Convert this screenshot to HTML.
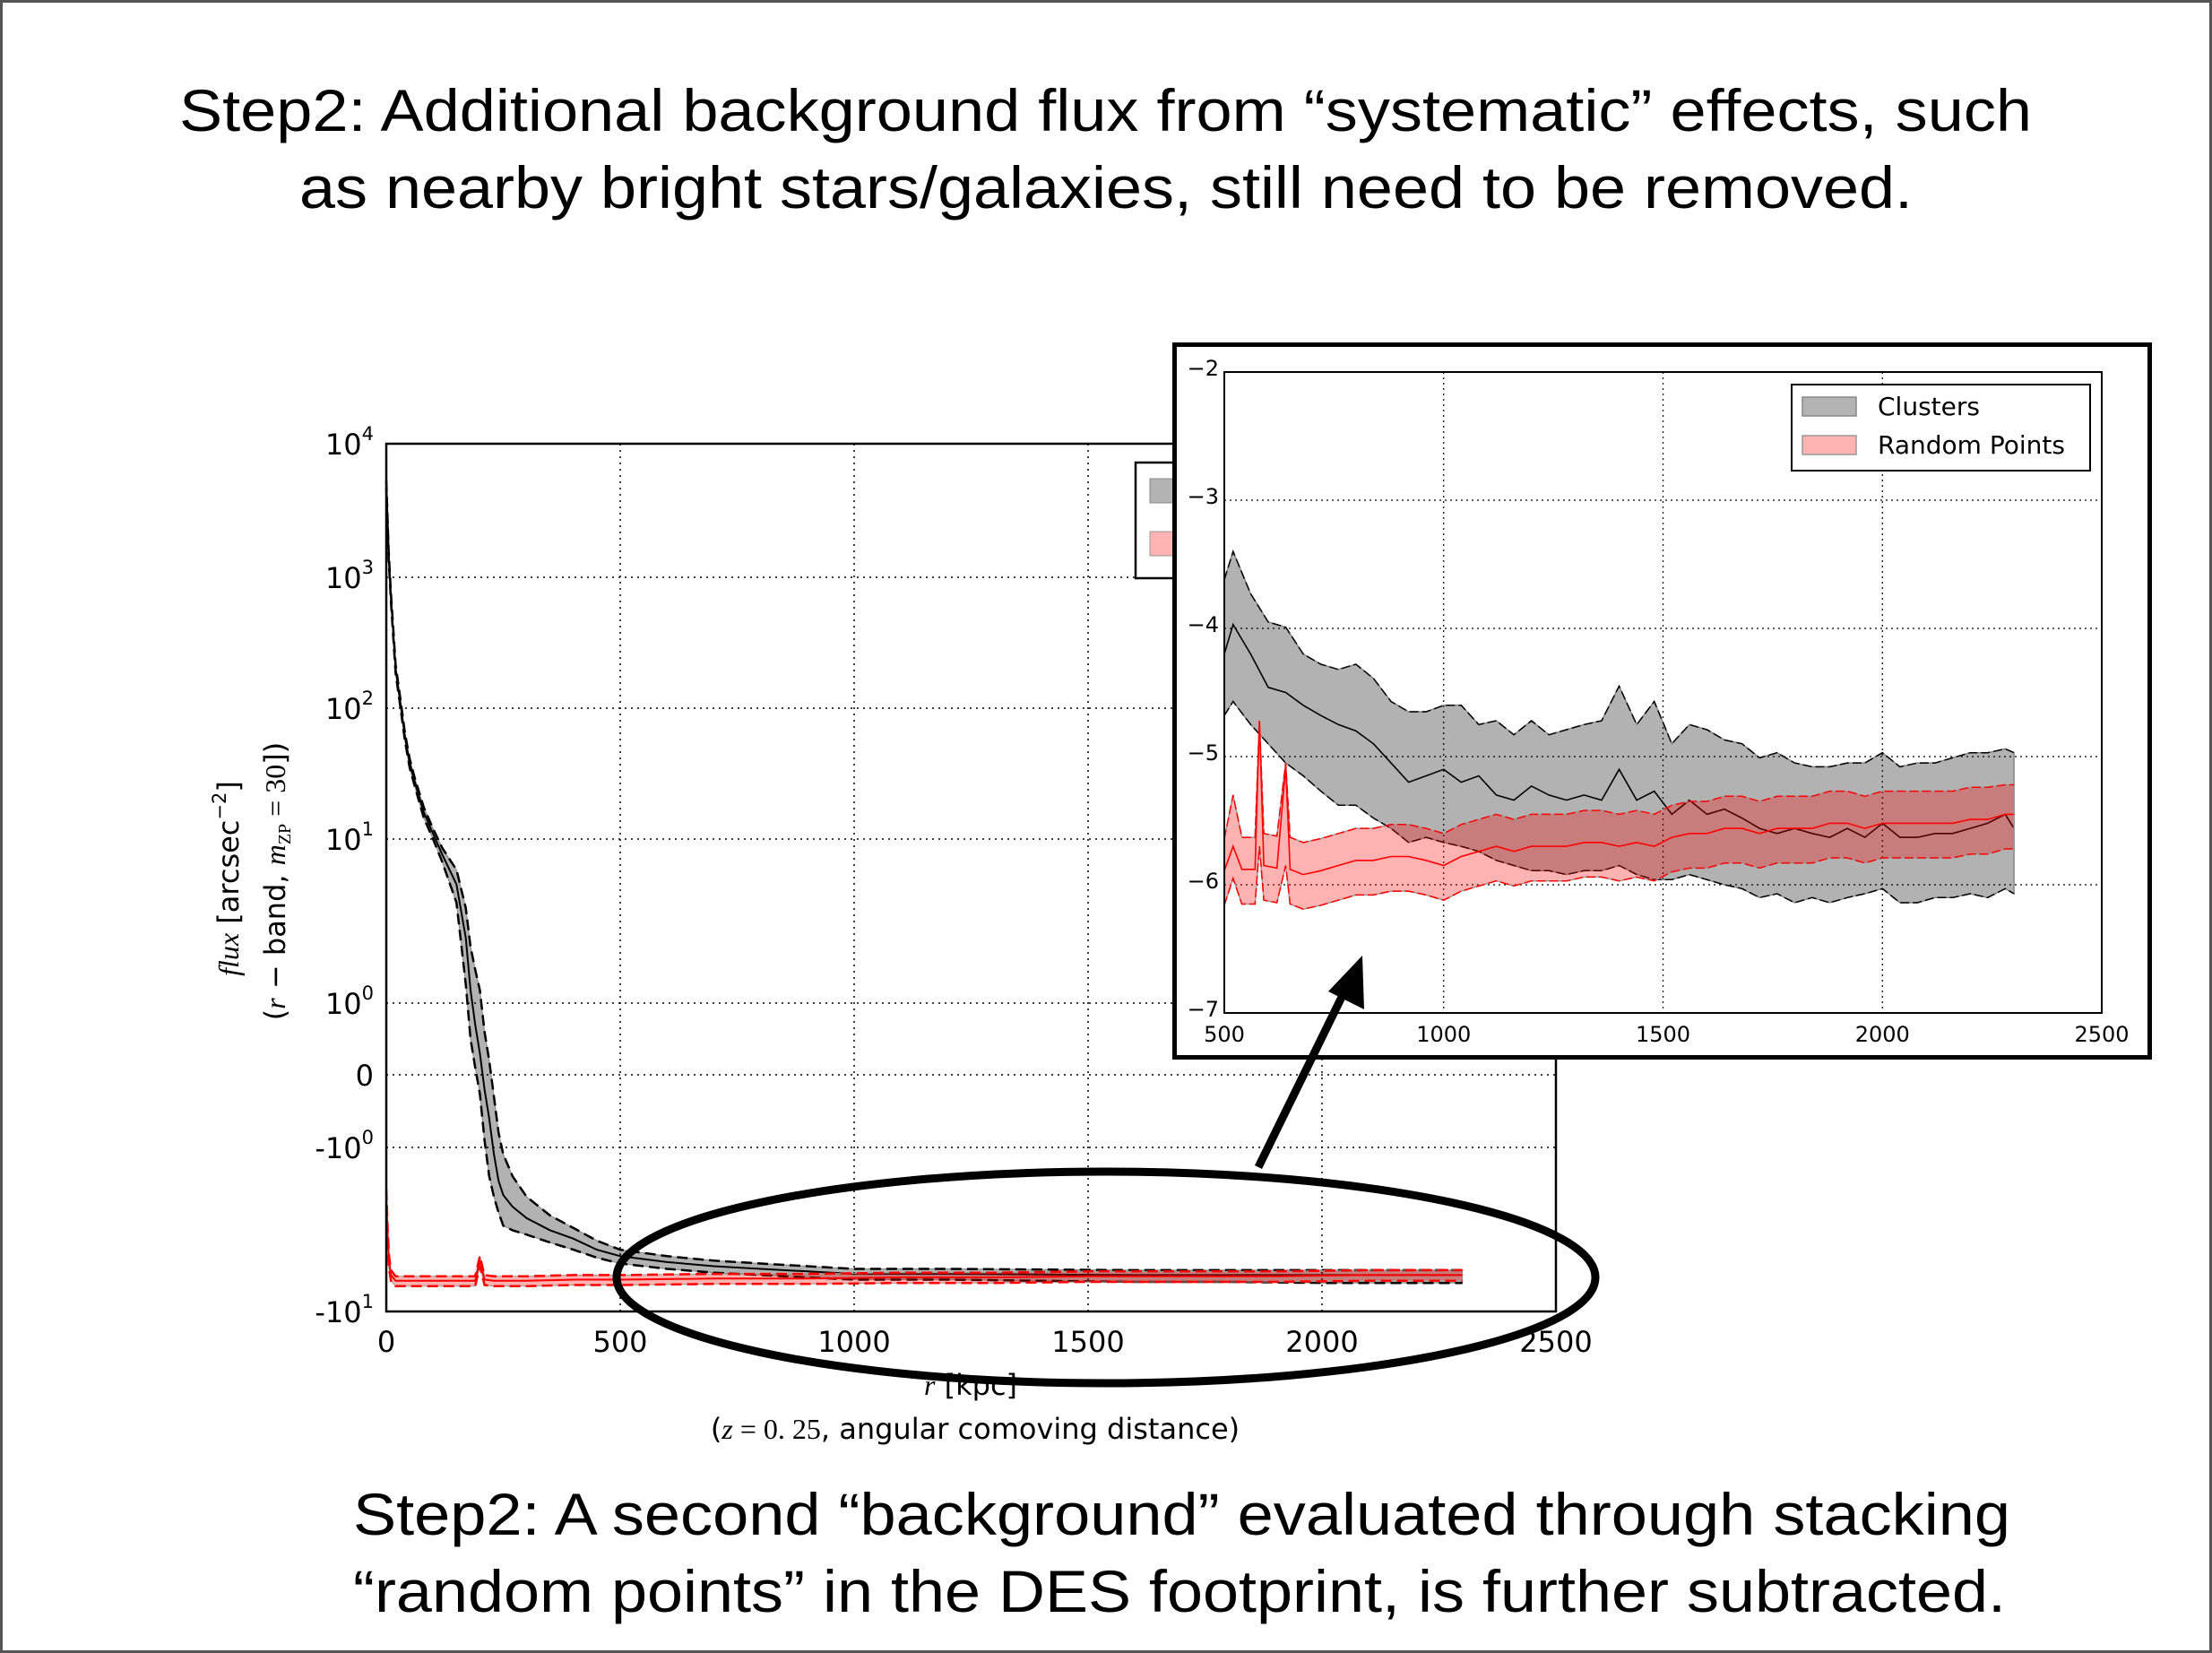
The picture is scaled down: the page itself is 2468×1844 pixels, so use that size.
<!DOCTYPE html>
<html><head><meta charset="utf-8"><style>
html,body{margin:0;padding:0;background:#fff;}
svg{display:block;}
text{font-family:"DejaVu Sans","Liberation Sans",sans-serif;}
.big{font-family:"Liberation Sans",Arial,sans-serif;font-size:66px;fill:#000;}
</style></head><body>
<svg id="root" width="2468" height="1844" viewBox="0 0 2468 1844" xmlns="http://www.w3.org/2000/svg">
<rect x="1.5" y="1.5" width="2465" height="1841" fill="#fff" stroke="#555" stroke-width="3"/>
<text class="big" x="200" y="146" textLength="2067" lengthAdjust="spacingAndGlyphs">Step2: Additional background flux from “systematic” effects, such</text>
<text class="big" x="334" y="232" textLength="1800" lengthAdjust="spacingAndGlyphs">as nearby bright stars/galaxies, still need to be removed.</text>
<text class="big" x="394" y="1712" textLength="1849" lengthAdjust="spacingAndGlyphs">Step2: A second “background” evaluated through stacking</text>
<text class="big" x="394" y="1798" textLength="1844" lengthAdjust="spacingAndGlyphs">“random points” in the DES footprint, is further subtracted.</text>
<g id="main"></g>
<g id="inset"></g>
<g id="annot"></g>
</svg>
<script>
// ---- main chart data (r in kpc, flux) ----
const mainClR = [0,5,10,20,30,40,50,60,80,100,120,150,170,180,190,200,210,220,230,240,250,270,300,350,400,450,500,600,700,800,900,1000,1200,1400,1600,1800,2000,2200,2300];
const mainClMean = [5000,1500,700,200,110,60,38,28,16,11,8,5.3,2.5,1.2,0.7,0.3,-0.2,-0.6,-1.1,-1.6,-1.95,-2.3,-2.7,-3.2,-3.6,-4.2,-4.6,-5.0,-5.3,-5.5,-5.7,-5.9,-5.9,-5.95,-6.0,-6.0,-6.0,-6.0,-6.0];
const mainClHi = [5300,1600,750,215,118,64,41,30,17.5,12,8.8,6.5,3.8,2.2,1.6,1.2,0.6,0.2,-0.3,-0.8,-1.1,-1.5,-2.0,-2.6,-3.1,-3.7,-4.2,-4.6,-4.9,-5.1,-5.3,-5.5,-5.5,-5.55,-5.6,-5.6,-5.6,-5.6,-5.6];
const mainClLo = [4700,1400,650,185,102,56,35,26,14.5,10,7.2,4.1,1.3,0.5,0.1,-0.26,-0.9,-1.5,-2.0,-2.5,-3.0,-3.2,-3.4,-3.8,-4.2,-4.7,-5.1,-5.5,-5.8,-6.0,-6.2,-6.4,-6.4,-6.5,-6.6,-6.6,-6.7,-6.7,-6.7];
const mainRdR = [0,3,6,10,20,50,100,150,190,200,210,230,300,400,500,700,900,1100,1300,1500,1700,1900,2100,2300];
const mainRdMean = [-2,-3.5,-5,-6,-6.5,-6.5,-6.5,-6.5,-6.5,-4.9,-6.4,-6.5,-6.5,-6.4,-6.4,-6.3,-6.3,-6.2,-6.2,-6.1,-6.1,-6.1,-6.0,-6.0];
const mainRdHi = [-1.8,-3.2,-4.6,-5.6,-6.1,-6.1,-6.1,-6.1,-6.1,-4.6,-6.0,-6.1,-6.1,-6.0,-6.0,-5.9,-5.9,-5.8,-5.8,-5.7,-5.7,-5.7,-5.6,-5.6];
const mainRdLo = [-2.3,-3.9,-5.5,-6.5,-7.0,-7.0,-7.0,-7.0,-7.0,-5.3,-6.9,-7.0,-7.0,-6.9,-6.9,-6.8,-6.8,-6.7,-6.7,-6.6,-6.6,-6.6,-6.5,-6.5];
const mainXTicks = [0,500,1000,1500,2000,2500];
const mainYTickT = [5,4,3,2,1,0,-1,-2];
const mainYTickBase = ["10","10","10","10","10","0","-10","-10"];
const mainYTickExp = ["4","3","2","1","0","","0","1"];
// ---- inset data ----
const inClR = [500,520,560,600,640,680,720,760,800,840,880,920,960,1000,1040,1080,1120,1160,1200,1240,1280,1320,1360,1400,1440,1480,1520,1560,1600,1640,1680,1720,1760,1800,1840,1880,1920,1960,2000,2040,2080,2120,2160,2200,2240,2280,2300];
const inClMean = [-4.2,-3.97,-4.2,-4.46,-4.5,-4.6,-4.68,-4.75,-4.8,-4.9,-5.05,-5.2,-5.15,-5.1,-5.2,-5.15,-5.3,-5.34,-5.23,-5.3,-5.34,-5.3,-5.34,-5.1,-5.34,-5.27,-5.45,-5.34,-5.45,-5.41,-5.48,-5.56,-5.6,-5.56,-5.6,-5.63,-5.56,-5.63,-5.52,-5.63,-5.63,-5.6,-5.6,-5.56,-5.52,-5.45,-5.56];
const inClHi = [-3.62,-3.4,-3.73,-3.95,-3.99,-4.2,-4.28,-4.32,-4.28,-4.39,-4.57,-4.65,-4.65,-4.6,-4.6,-4.75,-4.72,-4.83,-4.72,-4.83,-4.79,-4.75,-4.72,-4.45,-4.75,-4.57,-4.9,-4.75,-4.79,-4.87,-4.9,-5.01,-4.97,-5.05,-5.08,-5.08,-5.05,-5.05,-4.97,-5.08,-5.05,-5.05,-5.01,-4.97,-4.97,-4.94,-4.97];
const inClLo = [-4.68,-4.57,-4.75,-4.9,-5.05,-5.15,-5.27,-5.38,-5.38,-5.48,-5.56,-5.67,-5.63,-5.67,-5.7,-5.74,-5.81,-5.85,-5.89,-5.89,-5.92,-5.89,-5.89,-5.85,-5.92,-5.96,-5.96,-5.92,-5.96,-6.0,-6.03,-6.1,-6.07,-6.14,-6.1,-6.14,-6.1,-6.07,-6.03,-6.14,-6.14,-6.1,-6.1,-6.07,-6.1,-6.03,-6.07];
const inRdR = [500,520,540,570,580,590,620,640,650,680,720,760,800,840,880,920,960,1000,1040,1080,1120,1160,1200,1240,1280,1320,1360,1400,1440,1480,1520,1560,1600,1640,1680,1720,1760,1800,1840,1880,1920,1960,2000,2040,2080,2120,2160,2200,2240,2280,2300];
const inRdMean = [-5.89,-5.7,-5.88,-5.88,-4.72,-5.85,-5.87,-5.08,-5.88,-5.92,-5.89,-5.85,-5.81,-5.81,-5.78,-5.78,-5.81,-5.85,-5.78,-5.74,-5.7,-5.74,-5.7,-5.7,-5.7,-5.67,-5.67,-5.7,-5.67,-5.7,-5.63,-5.6,-5.6,-5.56,-5.56,-5.6,-5.56,-5.56,-5.56,-5.52,-5.52,-5.56,-5.52,-5.52,-5.52,-5.52,-5.52,-5.49,-5.49,-5.45,-5.45];
const inRdHi = [-5.64,-5.3,-5.63,-5.63,-4.72,-5.6,-5.62,-5.05,-5.63,-5.67,-5.64,-5.6,-5.56,-5.56,-5.53,-5.53,-5.56,-5.6,-5.53,-5.49,-5.45,-5.49,-5.45,-5.45,-5.45,-5.42,-5.42,-5.45,-5.42,-5.45,-5.38,-5.35,-5.35,-5.31,-5.31,-5.35,-5.31,-5.31,-5.31,-5.27,-5.27,-5.31,-5.27,-5.27,-5.27,-5.27,-5.27,-5.24,-5.24,-5.22,-5.22];
const inRdLo = [-6.16,-5.95,-6.15,-6.15,-5.7,-6.12,-6.14,-5.85,-6.15,-6.19,-6.16,-6.12,-6.08,-6.08,-6.05,-6.05,-6.08,-6.12,-6.05,-6.01,-5.97,-6.01,-5.97,-5.97,-5.97,-5.94,-5.94,-5.97,-5.94,-5.97,-5.9,-5.87,-5.87,-5.83,-5.83,-5.87,-5.83,-5.83,-5.83,-5.79,-5.79,-5.83,-5.79,-5.79,-5.79,-5.79,-5.79,-5.76,-5.76,-5.72,-5.72];
const inXTicks = [500,1000,1500,2000,2500];
const inYTicks = [-2,-3,-4,-5,-6,-7];
const legendLabels = ["Clusters","Random Points"];

const NS="http://www.w3.org/2000/svg";
function mk(parent,tag,attrs){const e=document.createElementNS(NS,tag);for(const k in attrs)e.setAttribute(k,attrs[k]);parent.appendChild(e);return e;}

// main axes geometry
const M={l:431,r:1736,t:495,b:1463};
const mainTickPx=[495,644,790,936,1119,1199,1280,1463];
function mx(v){return M.l+(v-0)/2500*(M.r-M.l);}
function symT(v){const a=Math.abs(v);return a<=1?v:Math.sign(v)*(1+Math.log10(a));}
function my(v){const t=symT(v);
  for(let i=0;i<mainYTickT.length-1;i++){const t0=mainYTickT[i],t1=mainYTickT[i+1];
    if(t<=t0&&t>=t1){return mainTickPx[i]+(t0-t)/(t0-t1)*(mainTickPx[i+1]-mainTickPx[i]);}}
  return t>5?M.t:M.b;}
const I={l:1366,r:2345,t:415,b:1130};
function ix(v){return I.l+(v-500)/2000*(I.r-I.l);}
function iy(v){return I.t+(-2-v)/5*(I.b-I.t);}
function pathOf(xs,ys,fx,fy){return xs.map((x,i)=>(i?'L':'M')+fx(x).toFixed(1)+' '+fy(ys[i]).toFixed(1)).join(' ');}
function bandOf(xs,lo,hi,fx,fy){let d=pathOf(xs,hi,fx,fy);for(let i=xs.length-1;i>=0;i--)d+=' L'+fx(xs[i]).toFixed(1)+' '+fy(lo[i]).toFixed(1);return d+' Z';}

// ---------- MAIN ----------
const g=document.getElementById('main');
mk(g,'rect',{x:M.l,y:M.t,width:M.r-M.l,height:M.b-M.t,fill:'#fff'});
mainXTicks.forEach((v,i)=>{
  const gl=mk(g,'line',{x1:mx(v),x2:mx(v),y1:M.t,y2:M.b,stroke:'#000','stroke-width':1.5,'stroke-dasharray':'2 5'});
  
  
  const t=mk(g,'text',{x:mx(v),y:M.b+45,'font-size':32,'text-anchor':'middle'});t.textContent=v;
  
  
});
mainYTickT.forEach((tv,i)=>{
  const y=mainTickPx[i];
  const gl=mk(g,'line',{x1:M.l,x2:M.r,y1:y,y2:y,stroke:'#000','stroke-width':1.5,'stroke-dasharray':'2 5'});
  
  
  const t=mk(g,'text',{x:417,y:y+12,'font-size':32,'text-anchor':'end'});
  
  
  const b=mk(t,'tspan',{});b.textContent=mainYTickBase[i];
  if(mainYTickExp[i]){const s=mk(t,'tspan',{'font-size':21,dy:-16});s.textContent=mainYTickExp[i];}
});
// clusters band
let e=mk(g,'path',{d:bandOf(mainClR,mainClLo,mainClHi,mx,my),fill:'#000','fill-opacity':0.3,stroke:'#888','stroke-width':1});


e=mk(g,'path',{d:pathOf(mainClR,mainClHi,mx,my),fill:'none',stroke:'#000','stroke-width':2.5,'stroke-dasharray':'12 6'});


e=mk(g,'path',{d:pathOf(mainClR,mainClLo,mx,my),fill:'none',stroke:'#000','stroke-width':2.5,'stroke-dasharray':'12 6'});


e=mk(g,'path',{d:pathOf(mainClR,mainClMean,mx,my),fill:'none',stroke:'#000','stroke-width':2});


e=mk(g,'path',{d:bandOf(mainRdR,mainRdLo,mainRdHi,mx,my),fill:'#f00','fill-opacity':0.3,stroke:'#999','stroke-width':1});


e=mk(g,'path',{d:pathOf(mainRdR,mainRdHi,mx,my),fill:'none',stroke:'#f00','stroke-width':2.5,'stroke-dasharray':'12 6'});


e=mk(g,'path',{d:pathOf(mainRdR,mainRdLo,mx,my),fill:'none',stroke:'#f00','stroke-width':2.5,'stroke-dasharray':'12 6'});


e=mk(g,'path',{d:pathOf(mainRdR,mainRdMean,mx,my),fill:'none',stroke:'#f00','stroke-width':2});


e=mk(g,'rect',{x:M.l,y:M.t,width:M.r-M.l,height:M.b-M.t,fill:'none',stroke:'#000','stroke-width':2.5});


// main legend (partly hidden)
e=mk(g,'rect',{x:1267,y:516,width:200,height:129,fill:'#fff',stroke:'#000','stroke-width':2.5});


mk(g,'rect',{x:1283,y:534,width:60,height:27,fill:'#b3b3b3',stroke:'#888'});
mk(g,'rect',{x:1283,y:593,width:60,height:27,fill:'#ffb3b3',stroke:'#999'});
// axis labels
e=mk(g,'text',{x:1083,y:1556,'font-size':32,'text-anchor':'middle'});


e.innerHTML='<tspan font-family="Liberation Serif,serif" font-style="italic">r</tspan> [kpc]';
e=mk(g,'text',{x:1088,y:1605,'font-size':32,'text-anchor':'middle'});


e.innerHTML='(<tspan font-family="Liberation Serif,serif" font-style="italic">z</tspan><tspan font-family="Liberation Serif,serif"> = 0. 25</tspan>, angular comoving distance)';
e=mk(g,'text',{x:0,y:0,'font-size':32,'text-anchor':'middle',transform:'translate(266,980) rotate(-90)'});


e.innerHTML='<tspan font-family="Liberation Serif,serif" font-style="italic">flux</tspan> [arcsec<tspan font-size="21" dy="-14">−2</tspan><tspan dy="14">]</tspan>';
e=mk(g,'text',{x:0,y:0,'font-size':32,'text-anchor':'middle',transform:'translate(318,983) rotate(-90)'});


e.innerHTML='(<tspan font-family="Liberation Serif,serif" font-style="italic">r</tspan> − band, <tspan font-family="Liberation Serif,serif" font-style="italic">m</tspan><tspan font-family="Liberation Serif,serif" font-size="20" dy="6">ZP</tspan><tspan dy="-6" font-family="Liberation Serif,serif"> = 30</tspan>])';

// ---------- INSET ----------
const h=document.getElementById('inset');
e=mk(h,'rect',{x:1310.5,y:384.5,width:2088,height:795,fill:'#fff',stroke:'#000','stroke-width':5});


e.setAttribute('width',2398-1310);
inXTicks.forEach(v=>{
  const gl=mk(h,'line',{x1:ix(v),x2:ix(v),y1:I.t,y2:I.b,stroke:'#000','stroke-width':1.2,'stroke-dasharray':'2 4'});
  
  
  const t=mk(h,'text',{x:ix(v),y:I.b+32,'font-size':24,'text-anchor':'middle'});t.textContent=v;
  
  
});
inYTicks.forEach(v=>{
  const gl=mk(h,'line',{x1:I.l,x2:I.r,y1:iy(v),y2:iy(v),stroke:'#000','stroke-width':1.2,'stroke-dasharray':'2 4'});
  
  
  const t=mk(h,'text',{x:I.l-6,y:iy(v)+4,'font-size':24,'text-anchor':'end'});t.textContent='−'+Math.abs(v);
  
  
});
e=mk(h,'path',{d:bandOf(inClR,inClLo,inClHi,ix,iy),fill:'#000','fill-opacity':0.3,stroke:'#888','stroke-width':1.5});


e=mk(h,'path',{d:pathOf(inClR,inClHi,ix,iy),fill:'none',stroke:'#000','stroke-width':1.5,'stroke-dasharray':'10 4'});


e=mk(h,'path',{d:pathOf(inClR,inClLo,ix,iy),fill:'none',stroke:'#000','stroke-width':1.5,'stroke-dasharray':'10 4'});


e=mk(h,'path',{d:pathOf(inClR,inClMean,ix,iy),fill:'none',stroke:'#000','stroke-width':1.6});


e=mk(h,'path',{d:bandOf(inRdR,inRdLo,inRdHi,ix,iy),fill:'#f00','fill-opacity':0.3,stroke:'#999','stroke-width':1.5});


e=mk(h,'path',{d:pathOf(inRdR,inRdHi,ix,iy),fill:'none',stroke:'#f00','stroke-width':1.5,'stroke-dasharray':'10 4'});


e=mk(h,'path',{d:pathOf(inRdR,inRdLo,ix,iy),fill:'none',stroke:'#f00','stroke-width':1.5,'stroke-dasharray':'10 4'});


e=mk(h,'path',{d:pathOf(inRdR,inRdMean,ix,iy),fill:'none',stroke:'#f00','stroke-width':1.6});


e=mk(h,'rect',{x:I.l,y:I.t,width:I.r-I.l,height:I.b-I.t,fill:'none',stroke:'#000','stroke-width':2});


e=mk(h,'rect',{x:1999,y:429,width:333,height:96,fill:'#fff',stroke:'#000','stroke-width':2});


const swFill=['#b3b3b3','#ffb3b3'],swStroke=['#888','#999'];
legendLabels.forEach((lab,i)=>{
  const y=443+i*43;
  const s=mk(h,'rect',{x:2011,y:y,width:60,height:21,fill:swFill[i],stroke:swStroke[i],'stroke-width':1.5});
  
  
  const t=mk(h,'text',{x:2095,y:y+20,'font-size':28});t.textContent=lab;
  
  
});

// ---------- annotations ----------
const a=document.getElementById('annot');
e=mk(a,'ellipse',{cx:1234,cy:1425,rx:546,ry:118,fill:'none',stroke:'#000','stroke-width':9});


e=mk(a,'line',{x1:1404,y1:1302,x2:1503,y2:1100,stroke:'#000','stroke-width':9});


e=mk(a,'polygon',{points:'1520,1066 1522,1126 1482,1106',fill:'#000'});


</script>
</body></html>
